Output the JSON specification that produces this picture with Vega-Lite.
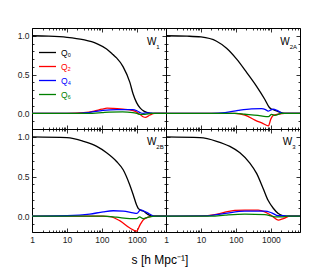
{
  "$schema": "https://vega.github.io/schema/vega-lite/v6.json",
  "padding": {"left": 17, "top": 24, "right": 19, "bottom": 8},
  "autosize": {"type": "pad"},
  "background": "white",
  "config": {
    "view": {"stroke": null},
    "font": "Liberation Sans",
    "axis": {"domainColor": "#000", "domainWidth": 1, "tickColor": "#000", "tickWidth": 0.8, "labelFont": "Liberation Sans", "labelFontSize": 8.5, "labelColor": "#222", "grid": false, "labelFlush": false, "labelOverlap": false, "labelBound": false},
    "legend": {"labelFont": "Liberation Sans"}
  },
  "title": {"text": "s [h Mpc⁻¹]", "orient": "bottom", "anchor": "middle", "fontSize": 12, "fontWeight": "normal", "font": "Liberation Sans", "color": "#000", "offset": 9},
  "datasets": {
    "c": [
      {"p":"W1","q":"Q₀","s":1,"v":1},{"p":"W1","q":"Q₀","s":3,"v":0.995},{"p":"W1","q":"Q₀","s":10,"v":0.98},{"p":"W1","q":"Q₀","s":29,"v":0.95},{"p":"W1","q":"Q₀","s":71,"v":0.9},{"p":"W1","q":"Q₀","s":136,"v":0.83},{"p":"W1","q":"Q₀","s":210,"v":0.755},{"p":"W1","q":"Q₀","s":262,"v":0.715},{"p":"W1","q":"Q₀","s":405,"v":0.6},{"p":"W1","q":"Q₀","s":630,"v":0.4},{"p":"W1","q":"Q₀","s":780,"v":0.25},{"p":"W1","q":"Q₀","s":980,"v":0.14},{"p":"W1","q":"Q₀","s":1230,"v":0.072},{"p":"W1","q":"Q₀","s":1580,"v":0.03},{"p":"W1","q":"Q₀","s":1900,"v":0.015},{"p":"W1","q":"Q₀","s":2900,"v":0},{"p":"W1","q":"Q₀","s":6800,"v":0},
      {"p":"W1","q":"Q₂","s":1,"v":0},{"p":"W1","q":"Q₂","s":10,"v":0},{"p":"W1","q":"Q₂","s":30,"v":0.01},{"p":"W1","q":"Q₂","s":60,"v":0.03},{"p":"W1","q":"Q₂","s":100,"v":0.055},{"p":"W1","q":"Q₂","s":140,"v":0.068},{"p":"W1","q":"Q₂","s":210,"v":0.065},{"p":"W1","q":"Q₂","s":400,"v":0.055},{"p":"W1","q":"Q₂","s":630,"v":0.046},{"p":"W1","q":"Q₂","s":870,"v":0.03},{"p":"W1","q":"Q₂","s":1230,"v":-0.013},{"p":"W1","q":"Q₂","s":1500,"v":-0.042},{"p":"W1","q":"Q₂","s":1800,"v":-0.05},{"p":"W1","q":"Q₂","s":2360,"v":-0.02},{"p":"W1","q":"Q₂","s":3250,"v":0},{"p":"W1","q":"Q₂","s":6800,"v":0},
      {"p":"W1","q":"Q₄","s":1,"v":0},{"p":"W1","q":"Q₄","s":20,"v":0},{"p":"W1","q":"Q₄","s":45,"v":0.015},{"p":"W1","q":"Q₄","s":107,"v":0.04},{"p":"W1","q":"Q₄","s":265,"v":0.05},{"p":"W1","q":"Q₄","s":760,"v":0.05},{"p":"W1","q":"Q₄","s":1000,"v":0.035},{"p":"W1","q":"Q₄","s":1250,"v":0.01},{"p":"W1","q":"Q₄","s":1500,"v":0},{"p":"W1","q":"Q₄","s":1800,"v":0.008},{"p":"W1","q":"Q₄","s":2300,"v":0.005},{"p":"W1","q":"Q₄","s":3000,"v":0},{"p":"W1","q":"Q₄","s":6800,"v":0},
      {"p":"W1","q":"Q₆","s":1,"v":0},{"p":"W1","q":"Q₆","s":40,"v":0},{"p":"W1","q":"Q₆","s":100,"v":0.01},{"p":"W1","q":"Q₆","s":160,"v":0.017},{"p":"W1","q":"Q₆","s":390,"v":0.02},{"p":"W1","q":"Q₆","s":760,"v":0.012},{"p":"W1","q":"Q₆","s":1000,"v":0},{"p":"W1","q":"Q₆","s":1230,"v":-0.013},{"p":"W1","q":"Q₆","s":1700,"v":-0.012},{"p":"W1","q":"Q₆","s":2700,"v":0},{"p":"W1","q":"Q₆","s":6800,"v":0},

      {"p":"W2A","q":"Q₀","s":1,"v":1},{"p":"W2A","q":"Q₀","s":4,"v":0.995},{"p":"W2A","q":"Q₀","s":10,"v":0.985},{"p":"W2A","q":"Q₀","s":28,"v":0.93},{"p":"W2A","q":"Q₀","s":54,"v":0.84},{"p":"W2A","q":"Q₀","s":105,"v":0.7},{"p":"W2A","q":"Q₀","s":202,"v":0.53},{"p":"W2A","q":"Q₀","s":390,"v":0.35},{"p":"W2A","q":"Q₀","s":673,"v":0.18},{"p":"W2A","q":"Q₀","s":895,"v":0.08},{"p":"W2A","q":"Q₀","s":1000,"v":0.06},{"p":"W2A","q":"Q₀","s":1170,"v":0.05},{"p":"W2A","q":"Q₀","s":1620,"v":0.025},{"p":"W2A","q":"Q₀","s":2500,"v":0},{"p":"W2A","q":"Q₀","s":6800,"v":0},
      {"p":"W2A","q":"Q₂","s":1,"v":0},{"p":"W2A","q":"Q₂","s":90,"v":0},{"p":"W2A","q":"Q₂","s":180,"v":-0.02},{"p":"W2A","q":"Q₂","s":350,"v":-0.085},{"p":"W2A","q":"Q₂","s":600,"v":-0.13},{"p":"W2A","q":"Q₂","s":850,"v":-0.16},{"p":"W2A","q":"Q₂","s":1000,"v":-0.07},{"p":"W2A","q":"Q₂","s":1170,"v":-0.025},{"p":"W2A","q":"Q₂","s":1600,"v":-0.01},{"p":"W2A","q":"Q₂","s":2500,"v":0},{"p":"W2A","q":"Q₂","s":6800,"v":0},
      {"p":"W2A","q":"Q₄","s":1,"v":0},{"p":"W2A","q":"Q₄","s":20,"v":0},{"p":"W2A","q":"Q₄","s":49,"v":0.01},{"p":"W2A","q":"Q₄","s":116,"v":0.04},{"p":"W2A","q":"Q₄","s":280,"v":0.06},{"p":"W2A","q":"Q₄","s":540,"v":0.062},{"p":"W2A","q":"Q₄","s":700,"v":0.05},{"p":"W2A","q":"Q₄","s":835,"v":0.03},{"p":"W2A","q":"Q₄","s":1000,"v":0.045},{"p":"W2A","q":"Q₄","s":1170,"v":0.055},{"p":"W2A","q":"Q₄","s":1500,"v":0.04},{"p":"W2A","q":"Q₄","s":2200,"v":0},{"p":"W2A","q":"Q₄","s":6800,"v":0},
      {"p":"W2A","q":"Q₆","s":1,"v":0},{"p":"W2A","q":"Q₆","s":100,"v":0},{"p":"W2A","q":"Q₆","s":180,"v":-0.01},{"p":"W2A","q":"Q₆","s":425,"v":-0.025},{"p":"W2A","q":"Q₆","s":730,"v":-0.04},{"p":"W2A","q":"Q₆","s":850,"v":-0.04},{"p":"W2A","q":"Q₆","s":1050,"v":-0.013},{"p":"W2A","q":"Q₆","s":1300,"v":-0.025},{"p":"W2A","q":"Q₆","s":2000,"v":0},{"p":"W2A","q":"Q₆","s":6800,"v":0},

      {"p":"W2B","q":"Q₀","s":1,"v":1},{"p":"W2B","q":"Q₀","s":10,"v":0.99},{"p":"W2B","q":"Q₀","s":29,"v":0.945},{"p":"W2B","q":"Q₀","s":71,"v":0.88},{"p":"W2B","q":"Q₀","s":136,"v":0.8},{"p":"W2B","q":"Q₀","s":262,"v":0.69},{"p":"W2B","q":"Q₀","s":405,"v":0.585},{"p":"W2B","q":"Q₀","s":630,"v":0.39},{"p":"W2B","q":"Q₀","s":785,"v":0.27},{"p":"W2B","q":"Q₀","s":980,"v":0.14},{"p":"W2B","q":"Q₀","s":1090,"v":0.098},{"p":"W2B","q":"Q₀","s":1360,"v":0.07},{"p":"W2B","q":"Q₀","s":1500,"v":0.065},{"p":"W2B","q":"Q₀","s":2100,"v":0.02},{"p":"W2B","q":"Q₀","s":2900,"v":0},{"p":"W2B","q":"Q₀","s":6800,"v":0},
      {"p":"W2B","q":"Q₂","s":1,"v":0},{"p":"W2B","q":"Q₂","s":100,"v":0},{"p":"W2B","q":"Q₂","s":170,"v":-0.005},{"p":"W2B","q":"Q₂","s":330,"v":-0.06},{"p":"W2B","q":"Q₂","s":630,"v":-0.15},{"p":"W2B","q":"Q₂","s":980,"v":-0.19},{"p":"W2B","q":"Q₂","s":1230,"v":-0.11},{"p":"W2B","q":"Q₂","s":1500,"v":-0.05},{"p":"W2B","q":"Q₂","s":2100,"v":-0.012},{"p":"W2B","q":"Q₂","s":3250,"v":0},{"p":"W2B","q":"Q₂","s":6800,"v":0},
      {"p":"W2B","q":"Q₄","s":1,"v":0},{"p":"W2B","q":"Q₄","s":10,"v":0.005},{"p":"W2B","q":"Q₄","s":45,"v":0.025},{"p":"W2B","q":"Q₄","s":109,"v":0.055},{"p":"W2B","q":"Q₄","s":210,"v":0.068},{"p":"W2B","q":"Q₄","s":405,"v":0.064},{"p":"W2B","q":"Q₄","s":780,"v":0.042},{"p":"W2B","q":"Q₄","s":1000,"v":0.035},{"p":"W2B","q":"Q₄","s":1270,"v":0.08},{"p":"W2B","q":"Q₄","s":1900,"v":0.047},{"p":"W2B","q":"Q₄","s":2900,"v":0.005},{"p":"W2B","q":"Q₄","s":3500,"v":0},{"p":"W2B","q":"Q₄","s":6800,"v":0},
      {"p":"W2B","q":"Q₆","s":1,"v":0},{"p":"W2B","q":"Q₆","s":109,"v":0},{"p":"W2B","q":"Q₆","s":265,"v":-0.013},{"p":"W2B","q":"Q₆","s":630,"v":-0.03},{"p":"W2B","q":"Q₆","s":980,"v":-0.03},{"p":"W2B","q":"Q₆","s":1200,"v":-0.01},{"p":"W2B","q":"Q₆","s":1500,"v":-0.03},{"p":"W2B","q":"Q₆","s":2300,"v":-0.008},{"p":"W2B","q":"Q₆","s":3500,"v":0},{"p":"W2B","q":"Q₆","s":6800,"v":0},

      {"p":"W3","q":"Q₀","s":1,"v":1},{"p":"W3","q":"Q₀","s":9.4,"v":0.99},{"p":"W3","q":"Q₀","s":28,"v":0.945},{"p":"W3","q":"Q₀","s":67,"v":0.88},{"p":"W3","q":"Q₀","s":130,"v":0.8},{"p":"W3","q":"Q₀","s":250,"v":0.67},{"p":"W3","q":"Q₀","s":390,"v":0.54},{"p":"W3","q":"Q₀","s":600,"v":0.35},{"p":"W3","q":"Q₀","s":830,"v":0.2},{"p":"W3","q":"Q₀","s":1170,"v":0.1},{"p":"W3","q":"Q₀","s":1620,"v":0.034},{"p":"W3","q":"Q₀","s":2260,"v":0.005},{"p":"W3","q":"Q₀","s":2600,"v":0},{"p":"W3","q":"Q₀","s":6800,"v":0},
      {"p":"W3","q":"Q₂","s":1,"v":0},{"p":"W3","q":"Q₂","s":10,"v":0.003},{"p":"W3","q":"Q₂","s":25,"v":0.02},{"p":"W3","q":"Q₂","s":49,"v":0.05},{"p":"W3","q":"Q₂","s":93,"v":0.072},{"p":"W3","q":"Q₂","s":180,"v":0.076},{"p":"W3","q":"Q₂","s":435,"v":0.076},{"p":"W3","q":"Q₂","s":670,"v":0.055},{"p":"W3","q":"Q₂","s":1050,"v":0.005},{"p":"W3","q":"Q₂","s":1620,"v":-0.05},{"p":"W3","q":"Q₂","s":2260,"v":-0.03},{"p":"W3","q":"Q₂","s":3600,"v":0},{"p":"W3","q":"Q₂","s":6800,"v":0},
      {"p":"W3","q":"Q₄","s":1,"v":0},{"p":"W3","q":"Q₄","s":15,"v":0.003},{"p":"W3","q":"Q₄","s":49,"v":0.035},{"p":"W3","q":"Q₄","s":180,"v":0.064},{"p":"W3","q":"Q₄","s":670,"v":0.064},{"p":"W3","q":"Q₄","s":1050,"v":0.042},{"p":"W3","q":"Q₄","s":1620,"v":0.005},{"p":"W3","q":"Q₄","s":2260,"v":0.005},{"p":"W3","q":"Q₄","s":3000,"v":0},{"p":"W3","q":"Q₄","s":6800,"v":0},
      {"p":"W3","q":"Q₆","s":1,"v":0},{"p":"W3","q":"Q₆","s":20,"v":0},{"p":"W3","q":"Q₆","s":49,"v":0.013},{"p":"W3","q":"Q₆","s":180,"v":0.025},{"p":"W3","q":"Q₆","s":670,"v":0.02},{"p":"W3","q":"Q₆","s":1300,"v":-0.008},{"p":"W3","q":"Q₆","s":2260,"v":-0.008},{"p":"W3","q":"Q₆","s":3000,"v":0},{"p":"W3","q":"Q₆","s":6800,"v":0}
    ],
    "lab": [
      {"p":"W1","m":"W","sub":"1"},
      {"p":"W2A","m":"W","sub":"2A"},
      {"p":"W2B","m":"W","sub":"2B"},
      {"p":"W3","m":"W","sub":"3"}
    ]
  },
  "columns": 2,
  "spacing": 0,
  "bounds": "flush",
  "concat": [
      {
        "width": 134, "height": 101,
        "layer": [
          {
            "data": {"name": "c"}, "transform": [{"filter": "datum.p == 'W1'"}],
            "mark": {"type": "line", "strokeWidth": 1.3, "interpolate": "monotone"},
            "encoding": {
              "x": {"field": "s", "type": "quantitative", "scale": {"type": "log", "domain": [1, 6800], "nice": false}, "axis": {"orient": "bottom", "title": null, "values": [1,2,3,4,5,6,7,8,9,10,20,30,40,50,60,70,80,90,100,200,300,400,500,600,700,800,900,1000,2000,3000,4000,5000,6000], "labels": false, "tickSize": {"condition": {"test": "indexof([1,10,100,1000], datum.value) >= 0", "value": -4}, "value": -2}}},
              "y": {"field": "v", "type": "quantitative", "scale": {"domain": [-0.2, 1.1], "nice": false, "zero": false}, "axis": {"orient": "left", "title": null, "values": [-0.2,-0.1,0,0.1,0.2,0.3,0.4,0.5,0.6,0.7,0.8,0.9,1,1.1], "labelExpr": "(datum.value == 0 || datum.value == 0.5 || datum.value == 1) ? format(datum.value, '.1f') : ''", "labelPadding": 7, "tickSize": {"condition": {"test": "datum.value == 0 || datum.value == 0.5 || datum.value == 1", "value": -4}, "value": -2}}},
              "color": {"field": "q", "type": "nominal", "scale": {"domain": ["Q₀","Q₂","Q₄","Q₆"], "range": ["#000000","#ff0000","#0000ff","#008000"]}, "sort": null,
                "legend": {"orient": "none", "legendX": 6, "legendY": 15, "title": null, "symbolType": "stroke", "symbolSize": 289, "symbolStrokeWidth": 1.3, "labelFontSize": 8.5, "rowPadding": -6, "labelOffset": 4, "padding": 0,
                  "encode": {"labels": {"update": {"fill": {"scale": "color", "field": "value"}}}}}}
            }
          },
          {
            "data": {"name": "c"}, "transform": [{"filter": "datum.p == 'W1'"}],
            "mark": {"type": "line", "opacity": 0},
            "encoding": {
              "x": {"field": "s", "type": "quantitative", "axis": {"orient": "top", "title": null, "labels": false, "values": [1,2,3,4,5,6,7,8,9,10,20,30,40,50,60,70,80,90,100,200,300,400,500,600,700,800,900,1000,2000,3000,4000,5000,6000], "tickSize": {"condition": {"test": "indexof([1,10,100,1000], datum.value) >= 0", "value": -4}, "value": -2}}},
              "y": {"field": "v", "type": "quantitative", "axis": {"orient": "right", "title": null, "labels": false, "values": [-0.2,-0.1,0,0.1,0.2,0.3,0.4,0.5,0.6,0.7,0.8,0.9,1,1.1], "tickSize": {"condition": {"test": "datum.value == 0 || datum.value == 0.5 || datum.value == 1", "value": -4}, "value": -2}}},
              "detail": {"field": "q"}
            }
          },
          {
            "data": {"name": "lab"}, "transform": [{"filter": "datum.p == 'W1'"}],
            "mark": {"type": "text", "align": "right", "baseline": "middle", "fontSize": 10, "font": "Liberation Sans", "color": "#000"},
            "encoding": {"x": {"datum": 3600, "axis": null}, "y": {"datum": 0.92, "axis": null}, "text": {"field": "m"}}
          },
          {
            "data": {"name": "lab"}, "transform": [{"filter": "datum.p == 'W1'"}],
            "mark": {"type": "text", "align": "left", "baseline": "middle", "fontSize": 6, "font": "Liberation Sans", "color": "#000"},
            "encoding": {"x": {"datum": 3600, "axis": null}, "y": {"datum": 0.86, "axis": null}, "text": {"field": "sub"}}
          }
        ],
        "resolve": {"axis": {"x": "independent", "y": "independent"}}
      },
      {
        "width": 134, "height": 101,
        "layer": [
          {
            "data": {"name": "c"}, "transform": [{"filter": "datum.p == 'W2A'"}],
            "mark": {"type": "line", "strokeWidth": 1.3, "interpolate": "monotone"},
            "encoding": {
              "x": {"field": "s", "type": "quantitative", "scale": {"type": "log", "domain": [1, 6800], "nice": false}, "axis": {"orient": "bottom", "title": null, "values": [1,2,3,4,5,6,7,8,9,10,20,30,40,50,60,70,80,90,100,200,300,400,500,600,700,800,900,1000,2000,3000,4000,5000,6000], "labels": false, "tickSize": {"condition": {"test": "indexof([1,10,100,1000], datum.value) >= 0", "value": -4}, "value": -2}}},
              "y": {"field": "v", "type": "quantitative", "scale": {"domain": [-0.2, 1.1], "nice": false, "zero": false}, "axis": {"orient": "left", "title": null, "labels": false, "values": [-0.2,-0.1,0,0.1,0.2,0.3,0.4,0.5,0.6,0.7,0.8,0.9,1,1.1], "tickSize": {"condition": {"test": "datum.value == 0 || datum.value == 0.5 || datum.value == 1", "value": -4}, "value": -2}}},
              "color": {"field": "q", "type": "nominal", "scale": {"domain": ["Q₀","Q₂","Q₄","Q₆"], "range": ["#000000","#ff0000","#0000ff","#008000"]}, "sort": null, "legend": null}
            }
          },
          {
            "data": {"name": "c"}, "transform": [{"filter": "datum.p == 'W2A'"}],
            "mark": {"type": "line", "opacity": 0},
            "encoding": {
              "x": {"field": "s", "type": "quantitative", "axis": {"orient": "top", "title": null, "labels": false, "values": [1,2,3,4,5,6,7,8,9,10,20,30,40,50,60,70,80,90,100,200,300,400,500,600,700,800,900,1000,2000,3000,4000,5000,6000], "tickSize": {"condition": {"test": "indexof([1,10,100,1000], datum.value) >= 0", "value": -4}, "value": -2}}},
              "y": {"field": "v", "type": "quantitative", "axis": {"orient": "right", "title": null, "labels": false, "values": [-0.2,-0.1,0,0.1,0.2,0.3,0.4,0.5,0.6,0.7,0.8,0.9,1,1.1], "tickSize": {"condition": {"test": "datum.value == 0 || datum.value == 0.5 || datum.value == 1", "value": -4}, "value": -2}}},
              "detail": {"field": "q"}
            }
          },
          {
            "data": {"name": "lab"}, "transform": [{"filter": "datum.p == 'W2A'"}],
            "mark": {"type": "text", "align": "right", "baseline": "middle", "fontSize": 10, "font": "Liberation Sans", "color": "#000"},
            "encoding": {"x": {"datum": 3470, "axis": null}, "y": {"datum": 0.92, "axis": null}, "text": {"field": "m"}}
          },
          {
            "data": {"name": "lab"}, "transform": [{"filter": "datum.p == 'W2A'"}],
            "mark": {"type": "text", "align": "left", "baseline": "middle", "fontSize": 6, "font": "Liberation Sans", "color": "#000"},
            "encoding": {"x": {"datum": 3470, "axis": null}, "y": {"datum": 0.86, "axis": null}, "text": {"field": "sub"}}
          }
        ],
        "resolve": {"axis": {"x": "independent", "y": "independent"}}
      },
      {
        "width": 134, "height": 103,
        "layer": [
          {
            "data": {"name": "c"}, "transform": [{"filter": "datum.p == 'W2B'"}],
            "mark": {"type": "line", "strokeWidth": 1.3, "interpolate": "monotone"},
            "encoding": {
              "x": {"field": "s", "type": "quantitative", "scale": {"type": "log", "domain": [1, 6800], "nice": false}, "axis": {"orient": "bottom", "title": null, "values": [1,2,3,4,5,6,7,8,9,10,20,30,40,50,60,70,80,90,100,200,300,400,500,600,700,800,900,1000,2000,3000,4000,5000,6000], "labelExpr": "indexof([1,10,100,1000], datum.value) >= 0 ? format(datum.value, 'd') : ''", "labelPadding": 7, "tickSize": {"condition": {"test": "indexof([1,10,100,1000], datum.value) >= 0", "value": -4}, "value": -2}}},
              "y": {"field": "v", "type": "quantitative", "scale": {"domain": [-0.2, 1.1], "nice": false, "zero": false}, "axis": {"orient": "left", "title": null, "values": [-0.2,-0.1,0,0.1,0.2,0.3,0.4,0.5,0.6,0.7,0.8,0.9,1,1.1], "labelExpr": "(datum.value == 0 || datum.value == 0.5 || datum.value == 1) ? format(datum.value, '.1f') : ''", "labelPadding": 7, "tickSize": {"condition": {"test": "datum.value == 0 || datum.value == 0.5 || datum.value == 1", "value": -4}, "value": -2}}},
              "color": {"field": "q", "type": "nominal", "scale": {"domain": ["Q₀","Q₂","Q₄","Q₆"], "range": ["#000000","#ff0000","#0000ff","#008000"]}, "sort": null, "legend": null}
            }
          },
          {
            "data": {"name": "c"}, "transform": [{"filter": "datum.p == 'W2B'"}],
            "mark": {"type": "line", "opacity": 0},
            "encoding": {
              "x": {"field": "s", "type": "quantitative", "axis": {"orient": "top", "title": null, "labels": false, "values": [1,2,3,4,5,6,7,8,9,10,20,30,40,50,60,70,80,90,100,200,300,400,500,600,700,800,900,1000,2000,3000,4000,5000,6000], "tickSize": {"condition": {"test": "indexof([1,10,100,1000], datum.value) >= 0", "value": -4}, "value": -2}}},
              "y": {"field": "v", "type": "quantitative", "axis": {"orient": "right", "title": null, "labels": false, "values": [-0.2,-0.1,0,0.1,0.2,0.3,0.4,0.5,0.6,0.7,0.8,0.9,1,1.1], "tickSize": {"condition": {"test": "datum.value == 0 || datum.value == 0.5 || datum.value == 1", "value": -4}, "value": -2}}},
              "detail": {"field": "q"}
            }
          },
          {
            "data": {"name": "lab"}, "transform": [{"filter": "datum.p == 'W2B'"}],
            "mark": {"type": "text", "align": "right", "baseline": "middle", "fontSize": 10, "font": "Liberation Sans", "color": "#000"},
            "encoding": {"x": {"datum": 3600, "axis": null}, "y": {"datum": 0.93, "axis": null}, "text": {"field": "m"}}
          },
          {
            "data": {"name": "lab"}, "transform": [{"filter": "datum.p == 'W2B'"}],
            "mark": {"type": "text", "align": "left", "baseline": "middle", "fontSize": 6, "font": "Liberation Sans", "color": "#000"},
            "encoding": {"x": {"datum": 3600, "axis": null}, "y": {"datum": 0.87, "axis": null}, "text": {"field": "sub"}}
          }
        ],
        "resolve": {"axis": {"x": "independent", "y": "independent"}}
      },
      {
        "width": 134, "height": 103,
        "layer": [
          {
            "data": {"name": "c"}, "transform": [{"filter": "datum.p == 'W3'"}],
            "mark": {"type": "line", "strokeWidth": 1.3, "interpolate": "monotone"},
            "encoding": {
              "x": {"field": "s", "type": "quantitative", "scale": {"type": "log", "domain": [1, 6800], "nice": false}, "axis": {"orient": "bottom", "title": null, "values": [1,2,3,4,5,6,7,8,9,10,20,30,40,50,60,70,80,90,100,200,300,400,500,600,700,800,900,1000,2000,3000,4000,5000,6000], "labelExpr": "indexof([1,10,100,1000], datum.value) >= 0 ? format(datum.value, 'd') : ''", "labelPadding": 7, "tickSize": {"condition": {"test": "indexof([1,10,100,1000], datum.value) >= 0", "value": -4}, "value": -2}}},
              "y": {"field": "v", "type": "quantitative", "scale": {"domain": [-0.2, 1.1], "nice": false, "zero": false}, "axis": {"orient": "left", "title": null, "labels": false, "values": [-0.2,-0.1,0,0.1,0.2,0.3,0.4,0.5,0.6,0.7,0.8,0.9,1,1.1], "tickSize": {"condition": {"test": "datum.value == 0 || datum.value == 0.5 || datum.value == 1", "value": -4}, "value": -2}}},
              "color": {"field": "q", "type": "nominal", "scale": {"domain": ["Q₀","Q₂","Q₄","Q₆"], "range": ["#000000","#ff0000","#0000ff","#008000"]}, "sort": null, "legend": null}
            }
          },
          {
            "data": {"name": "c"}, "transform": [{"filter": "datum.p == 'W3'"}],
            "mark": {"type": "line", "opacity": 0},
            "encoding": {
              "x": {"field": "s", "type": "quantitative", "axis": {"orient": "top", "title": null, "labels": false, "values": [1,2,3,4,5,6,7,8,9,10,20,30,40,50,60,70,80,90,100,200,300,400,500,600,700,800,900,1000,2000,3000,4000,5000,6000], "tickSize": {"condition": {"test": "indexof([1,10,100,1000], datum.value) >= 0", "value": -4}, "value": -2}}},
              "y": {"field": "v", "type": "quantitative", "axis": {"orient": "right", "title": null, "labels": false, "values": [-0.2,-0.1,0,0.1,0.2,0.3,0.4,0.5,0.6,0.7,0.8,0.9,1,1.1], "tickSize": {"condition": {"test": "datum.value == 0 || datum.value == 0.5 || datum.value == 1", "value": -4}, "value": -2}}},
              "detail": {"field": "q"}
            }
          },
          {
            "data": {"name": "lab"}, "transform": [{"filter": "datum.p == 'W3'"}],
            "mark": {"type": "text", "align": "right", "baseline": "middle", "fontSize": 10, "font": "Liberation Sans", "color": "#000"},
            "encoding": {"x": {"datum": 4100, "axis": null}, "y": {"datum": 0.93, "axis": null}, "text": {"field": "m"}}
          },
          {
            "data": {"name": "lab"}, "transform": [{"filter": "datum.p == 'W3'"}],
            "mark": {"type": "text", "align": "left", "baseline": "middle", "fontSize": 6, "font": "Liberation Sans", "color": "#000"},
            "encoding": {"x": {"datum": 4100, "axis": null}, "y": {"datum": 0.87, "axis": null}, "text": {"field": "sub"}}
          }
        ],
        "resolve": {"axis": {"x": "independent", "y": "independent"}}
      }
  ]
}
